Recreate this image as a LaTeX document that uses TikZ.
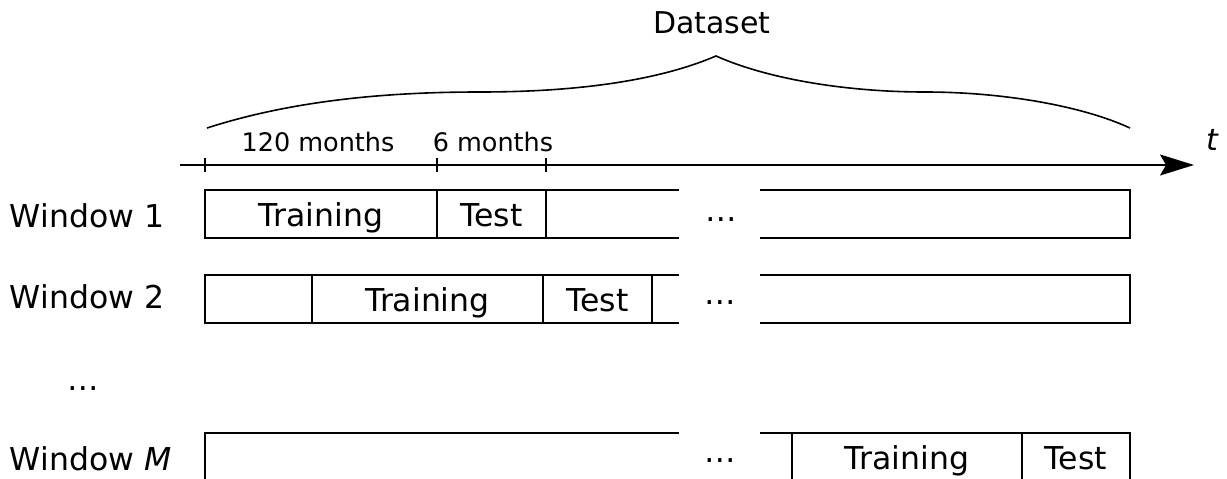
\documentclass[tikz,border=0pt]{standalone}
\usepackage{fontspec}
\setmainfont{DejaVu Sans}
\usetikzlibrary{arrows.meta}
\begin{document}
\begin{tikzpicture}[x=1pt,y=-1pt,
  line width=1.6pt,
  big/.style={font=\fontsize{31.5}{36}\selectfont},
  seg/.style={draw,big,minimum width=#1,minimum height=48pt,inner sep=0pt,outer sep=0pt,
    anchor=north west,text height=31pt,text depth=7pt},
  winlbl/.style={big,anchor=base west,inner sep=0pt},
  small/.style={font=\fontsize{25.5}{30}\selectfont,anchor=base,inner sep=0pt},
  dots/.style={big,inner sep=0pt,anchor=base},
  tick/.style={line width=1.6pt}]
\clip (0,0) rectangle (1227,479);
% title and brace
\node[inner sep=0pt,font=\fontsize{30}{36}\selectfont,anchor=base] (ds) at (712,33) {Dataset};
\coordinate (bl) at (207,128);
\coordinate (bp) at (716,56);
\coordinate (br) at (1130,128);
\draw (bl) .. controls (300,98) and (400,92) .. (480,92)
           .. controls (580,92) and (660,80) .. (bp)
           .. controls (770,80) and (850,92) .. (925,92)
           .. controls (1000,92) and (1080,105) .. (br);
% time axis
\coordinate (ax0) at (180,165);
\coordinate (ax1) at (1194,165);
\draw[-{Stealth[length=34pt,width=21pt,inset=6pt]}] (ax0) -- (ax1);
\node[inner sep=0pt,font=\itshape\fontsize{30}{36}\selectfont,anchor=base] (t) at (1212,150) {t};
\coordinate (t0) at (205,165);
\coordinate (t1) at (437,165);
\coordinate (t2) at (546,165);
\foreach \c in {t0,t1,t2} \draw[tick] ([yshift=-7pt]\c) -- ([yshift=7pt]\c);
\node[small] (m120) at (318,151) {120 months};
\node[small] (m6) at (493,151) {6 months};
% window 1
\node[winlbl] (w1) at (9,227) {Window 1};
\node[seg=232] (w1tr) at (205,190) {Training};
\node[seg=109] (w1te) at (437,190) {Test};
\coordinate (w1a) at (679,190); \coordinate (w1b) at (679,238);
\draw (w1te.north east) -- (w1a);
\draw (w1te.south east) -- (w1b);
\coordinate (w1c) at (760,190); \coordinate (w1d) at (1130,190);
\coordinate (w1e) at (1130,238); \coordinate (w1f) at (760,238);
\draw (w1c) -- (w1d) -- (w1e) -- (w1f);
\node[dots] (d1) at (721,221) {…};
% window 2
\node[winlbl] (w2) at (9,308) {Window 2};
\node[seg=107] (w2pre) at (205,275) {};
\node[seg=231] (w2tr) at (312,275) {Training};
\node[seg=109] (w2te) at (543,275) {Test};
\coordinate (w2a) at (679,275); \coordinate (w2b) at (679,323);
\draw (w2te.north east) -- (w2a);
\draw (w2te.south east) -- (w2b);
\coordinate (w2c) at (760,275); \coordinate (w2d) at (1130,275);
\coordinate (w2e) at (1130,323); \coordinate (w2f) at (760,323);
\draw (w2c) -- (w2d) -- (w2e) -- (w2f);
\node[dots] (d2) at (720,304) {…};
% vertical dots
\node[dots] (dv) at (83,390) {…};
% window M
\node[winlbl] (wm) at (9,470) {Window \textit{M}};
\coordinate (wma) at (205,490); \coordinate (wmb) at (205,433);
\coordinate (wmc) at (679,433);
\draw (wma) -- (wmb) -- (wmc);
\coordinate (wmd) at (760,433);
\draw (wmd) -- (792,433);
\node[seg=230] (wmtr) at (792,433) {Training};
\node[seg=108] (wmte) at (1022,433) {Test};
\node[dots] (dm) at (720,462) {…};
\end{tikzpicture}
\end{document}
